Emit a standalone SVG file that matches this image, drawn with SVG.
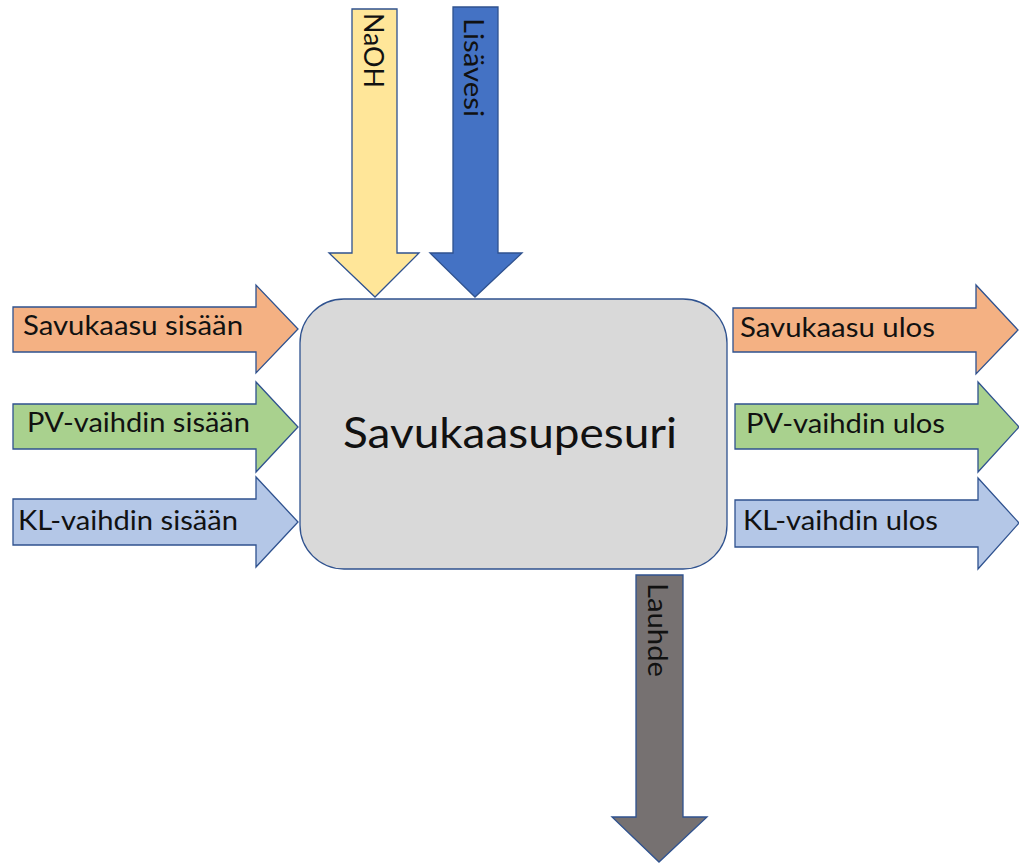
<svg xmlns="http://www.w3.org/2000/svg" width="1019" height="863" viewBox="0 0 1019 863">
<style>
.a{stroke:#2F528F;stroke-width:1.3;stroke-linejoin:miter}
.t{font-family:Lato,"Open Sans","Liberation Sans",sans-serif;fill:#111;font-size:26px}
.big{font-size:42px}
</style>
<rect width="1019" height="863" fill="#fff"/>
<g id="connectors">
<path id="savukaasu-sisaan" class="a" fill="#F4B183" d="M13,307 H256 V285 L298,329 L256,373 V352 H13 Z"/>
<path id="pv-sisaan" class="a" fill="#A9D18E" d="M13,404 H256 V382 L298,427 L256,472 V449 H13 Z"/>
<path id="kl-sisaan" class="a" fill="#B4C7E7" d="M13,499 H256 V477 L298,522 L256,567 V545 H13 Z"/>
<path id="savukaasu-ulos" class="a" fill="#F4B183" d="M733,308 H976 V285 L1018,330 L976,374 V352 H733 Z"/>
<path id="pv-ulos" class="a" fill="#A9D18E" d="M735,404 H978 V382 L1019,427 L978,472 V449 H735 Z"/>
<path id="kl-ulos" class="a" fill="#B4C7E7" d="M735,500 H978 V478 L1019,523 L978,569 V547 H735 Z"/>
<path id="naoh" class="a" fill="#FFE699" d="M352,9 V253 H329 L375,297 L419,253 H397 V9 Z"/>
<path id="lisavesi" class="a" fill="#4472C4" d="M453,7 V253 H430 L475,297 L522,253 H498 V7 Z"/>
<path id="lauhde" class="a" fill="#767171" d="M636,575 V817 H612 L659,862 L707,817 H683 V575 Z"/>
</g>
<g id="labels">
<text class="t" x="23" y="335" textLength="220" lengthAdjust="spacingAndGlyphs">Savukaasu sisään</text>
<text class="t" x="27" y="432" textLength="223" lengthAdjust="spacingAndGlyphs">PV-vaihdin sisään</text>
<text class="t" x="18" y="530" textLength="220" lengthAdjust="spacingAndGlyphs">KL-vaihdin sisään</text>
<text class="t" x="740" y="337" textLength="195" lengthAdjust="spacingAndGlyphs">Savukaasu ulos</text>
<text class="t" x="746" y="433" textLength="199" lengthAdjust="spacingAndGlyphs">PV-vaihdin ulos</text>
<text class="t" x="743" y="530" textLength="195" lengthAdjust="spacingAndGlyphs">KL-vaihdin ulos</text>
<text class="t" transform="translate(364,13) rotate(90)" x="0" y="0" font-size="28" textLength="75" lengthAdjust="spacingAndGlyphs">NaOH</text>
<text class="t" transform="translate(464,18) rotate(90)" x="0" y="0" font-size="28" textLength="99" lengthAdjust="spacingAndGlyphs">Lisävesi</text>
<text class="t" transform="translate(648,583) rotate(90)" x="0" y="0" textLength="94" lengthAdjust="spacingAndGlyphs">Lauhde</text>
</g>
<g id="savukaasupesuri">
<rect class="a" x="300" y="299" width="427" height="270" rx="44" ry="44" fill="#D9D9D9"/>
<text class="t big" x="343" y="448" textLength="334" lengthAdjust="spacingAndGlyphs">Savukaasupesuri</text>
</g>
</svg>
